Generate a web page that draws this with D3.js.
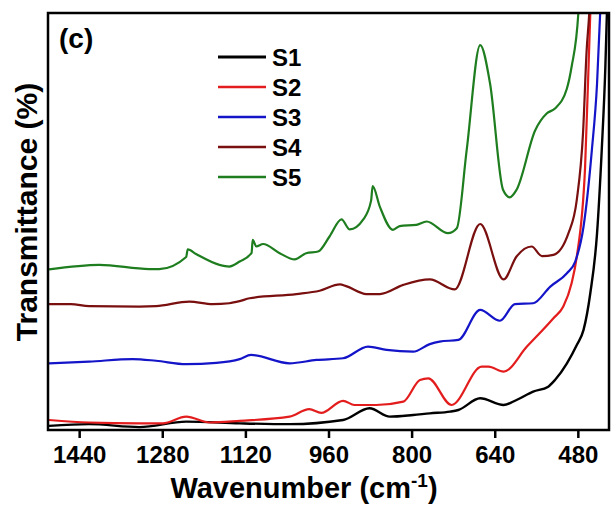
<!DOCTYPE html>
<html>
<head>
<meta charset="utf-8">
<script src="https://cdn.jsdelivr.net/npm/d3@7"></script>
<style>
  body { margin: 0; background: #fff; }
  text { font-family: "Liberation Sans", Arial, sans-serif; font-weight: bold; }
</style>
</head>
<body>
<div id="chart"></div>
<script>
// wavenumber (cm-1), decreasing left to right
var seriesNames = ["S1", "S2", "S3", "S4", "S5"];
var seriesColors = ["#000000", "#e31d1d", "#1414c8", "#7a0f0f", "#1e7d1e"];
var xTicks = [1440, 1280, 1120, 960, 800, 640, 480];

// transmittance, arbitrary offsets (0 = bottom of frame, 100 = top)
var s1Wn = [1498, 1421, 1324, 1234, 1131, 1035, 932, 881, 842, 797, 765, 726, 710, 668, 623, 598, 566, 537, 524, 501, 482, 469, 456, 443, 434, 427, 424, 418];
var s1T  = [1.0, 1.4, 0.7, 2.0, 1.6, 1.4, 2.4, 5.2, 3.2, 3.6, 4.0, 4.4, 4.8, 7.6, 6.0, 7.2, 9.2, 10.4, 12.0, 16.0, 20.4, 24.0, 32.8, 47.2, 67.1, 87.1, 100, 120];

var s2Wn = [1498, 1421, 1324, 1279, 1234, 1189, 1131, 1035, 997, 974, 932, 910, 868, 816, 784, 768, 723, 665, 652, 623, 578, 527, 508, 492, 482, 466, 456, 448];
var s2T  = [2.4, 1.8, 1.6, 1.6, 3.2, 1.8, 2.2, 3.2, 5.0, 4.1, 7.0, 6.0, 6.0, 6.8, 12.0, 12.4, 6.0, 15.2, 15.2, 14.0, 20.0, 26.8, 29.6, 35.2, 41.6, 63.1, 100, 125];

var s3Wn = [1498, 1421, 1337, 1292, 1234, 1176, 1131, 1109, 1035, 983, 932, 884, 848, 797, 765, 746, 710, 668, 630, 601, 566, 533, 501, 485, 469, 453, 443, 437, 430];
var s3T  = [16.0, 16.4, 17.0, 16.6, 15.8, 16.1, 17.0, 18.0, 16.0, 16.8, 17.2, 20.0, 19.2, 18.8, 20.6, 21.2, 21.6, 28.8, 26.2, 30.2, 30.4, 34.4, 37.6, 40.4, 48.8, 67.1, 83.1, 100, 125];

var s4Wn = [1498, 1456, 1421, 1324, 1292, 1228, 1183, 1151, 1131, 1112, 1022, 977, 938, 926, 887, 861, 816, 765, 717, 668, 623, 598, 569, 549, 527, 498, 482, 470, 463, 458, 450];
var s4T  = [30.2, 30.2, 29.7, 29.6, 29.7, 30.8, 30.2, 30.4, 30.9, 31.6, 32.6, 33.4, 34.9, 34.5, 32.6, 32.6, 34.8, 36.1, 33.7, 49.4, 36.1, 41.6, 44.0, 41.7, 42.0, 47.2, 55.2, 71.2, 91.1, 100, 125];

var s5Wn = [1498, 1401, 1305, 1286, 1234, 1231, 1215, 1170, 1151, 1131, 1108, 1106, 1099, 1086, 1054, 1025, 1003, 980, 958, 935, 919, 893, 878, 875, 861, 836, 823, 791, 771, 730, 713, 694, 668, 649, 624, 611, 598, 562, 540, 524, 501, 492, 479, 470];
var s5T  = [38.5, 39.6, 38.6, 38.6, 41.5, 43.3, 42.2, 39.6, 39.2, 40.4, 42.5, 45.6, 44.0, 44.6, 42.4, 40.9, 42.4, 42.8, 46.4, 50.5, 48.1, 50.5, 55.0, 58.5, 53.5, 48.0, 48.9, 49.2, 50.0, 47.2, 48.4, 67.1, 92.3, 83.1, 57.6, 55.8, 57.6, 71.9, 75.9, 77.1, 81.9, 87.1, 100, 125];

var seriesWn = [s1Wn, s2Wn, s3Wn, s4Wn, s5Wn];
var seriesT = [s1T, s2T, s3T, s4T, s5T];

var width = 613, height = 506;
var margin = {top: 13, right: 4, bottom: 76, left: 48};

var svg = d3.select("#chart").append("svg")
  .attr("width", width)
  .attr("height", height);

var x = d3.scaleLinear().domain([1500, 420]).range([margin.left, width - margin.right]);
var y = d3.scaleLinear().domain([0, 100]).range([height - margin.bottom, margin.top]);

svg.append("clipPath").attr("id", "plotclip")
  .append("rect")
  .attr("x", margin.left).attr("y", margin.top)
  .attr("width", width - margin.left - margin.right)
  .attr("height", height - margin.top - margin.bottom);

var line = d3.line()
  .x(function(d){ return x(d[0]); })
  .y(function(d){ return y(d[1]); })
  .curve(d3.curveMonotoneX);

var plot = svg.append("g").attr("clip-path", "url(#plotclip)");

seriesNames.forEach(function(name, i){
  var pts = seriesWn[i].map(function(w, j){ return [w, seriesT[i][j]]; });
  plot.append("path")
    .datum(pts)
    .attr("d", line)
    .attr("fill", "none")
    .attr("stroke", seriesColors[i])
    .attr("stroke-width", i == 0 ? 2.4 : 2.2)
    .attr("stroke-linejoin", "round");
});

// frame
svg.append("rect")
  .attr("x", margin.left).attr("y", margin.top)
  .attr("width", width - margin.left - margin.right)
  .attr("height", height - margin.top - margin.bottom)
  .attr("fill", "none")
  .attr("stroke", "#000")
  .attr("stroke-width", 2.5);

// bottom axis
var xAxis = svg.append("g")
  .attr("transform", "translate(0," + (height - margin.bottom) + ")")
  .call(d3.axisBottom(x).tickValues(xTicks).tickFormat(d3.format("d"))
    .tickSize(8).tickPadding(8).tickSizeOuter(0));
xAxis.select(".domain").remove();
xAxis.selectAll("line").attr("stroke-width", 2.5);
xAxis.selectAll("text")
  .attr("font-size", 24)
  .attr("font-family", "Liberation Sans, Arial, sans-serif")
  .attr("font-weight", "bold")
  .attr("fill", "#000");

// axis titles
var xt = svg.append("text")
  .attr("x", 304).attr("y", 498)
  .attr("text-anchor", "middle")
  .attr("font-size", 29);
xt.append("tspan").text("Wavenumber (cm");
xt.append("tspan").attr("font-size", 19).attr("dy", -11).text("-1");
xt.append("tspan").attr("dy", 11).text(")");

svg.append("text")
  .attr("transform", "translate(37,212) rotate(-90)")
  .attr("text-anchor", "middle")
  .attr("font-size", 30)
  .text("Transmittance (%)");

// panel letter
svg.append("text")
  .attr("x", 59).attr("y", 48)
  .attr("font-size", 28)
  .text("(c)");

// legend
var legend = svg.append("g");
seriesNames.forEach(function(name, i){
  var ly = 57 + i * 30;
  legend.append("line")
    .attr("x1", 218).attr("x2", 266)
    .attr("y1", ly).attr("y2", ly)
    .attr("stroke", seriesColors[i])
    .attr("stroke-width", i == 0 ? 3 : 2.4);
  legend.append("text")
    .attr("x", 272).attr("y", ly + 9)
    .attr("font-size", 24)
    .text(name);
});
</script>
</body>
</html>
